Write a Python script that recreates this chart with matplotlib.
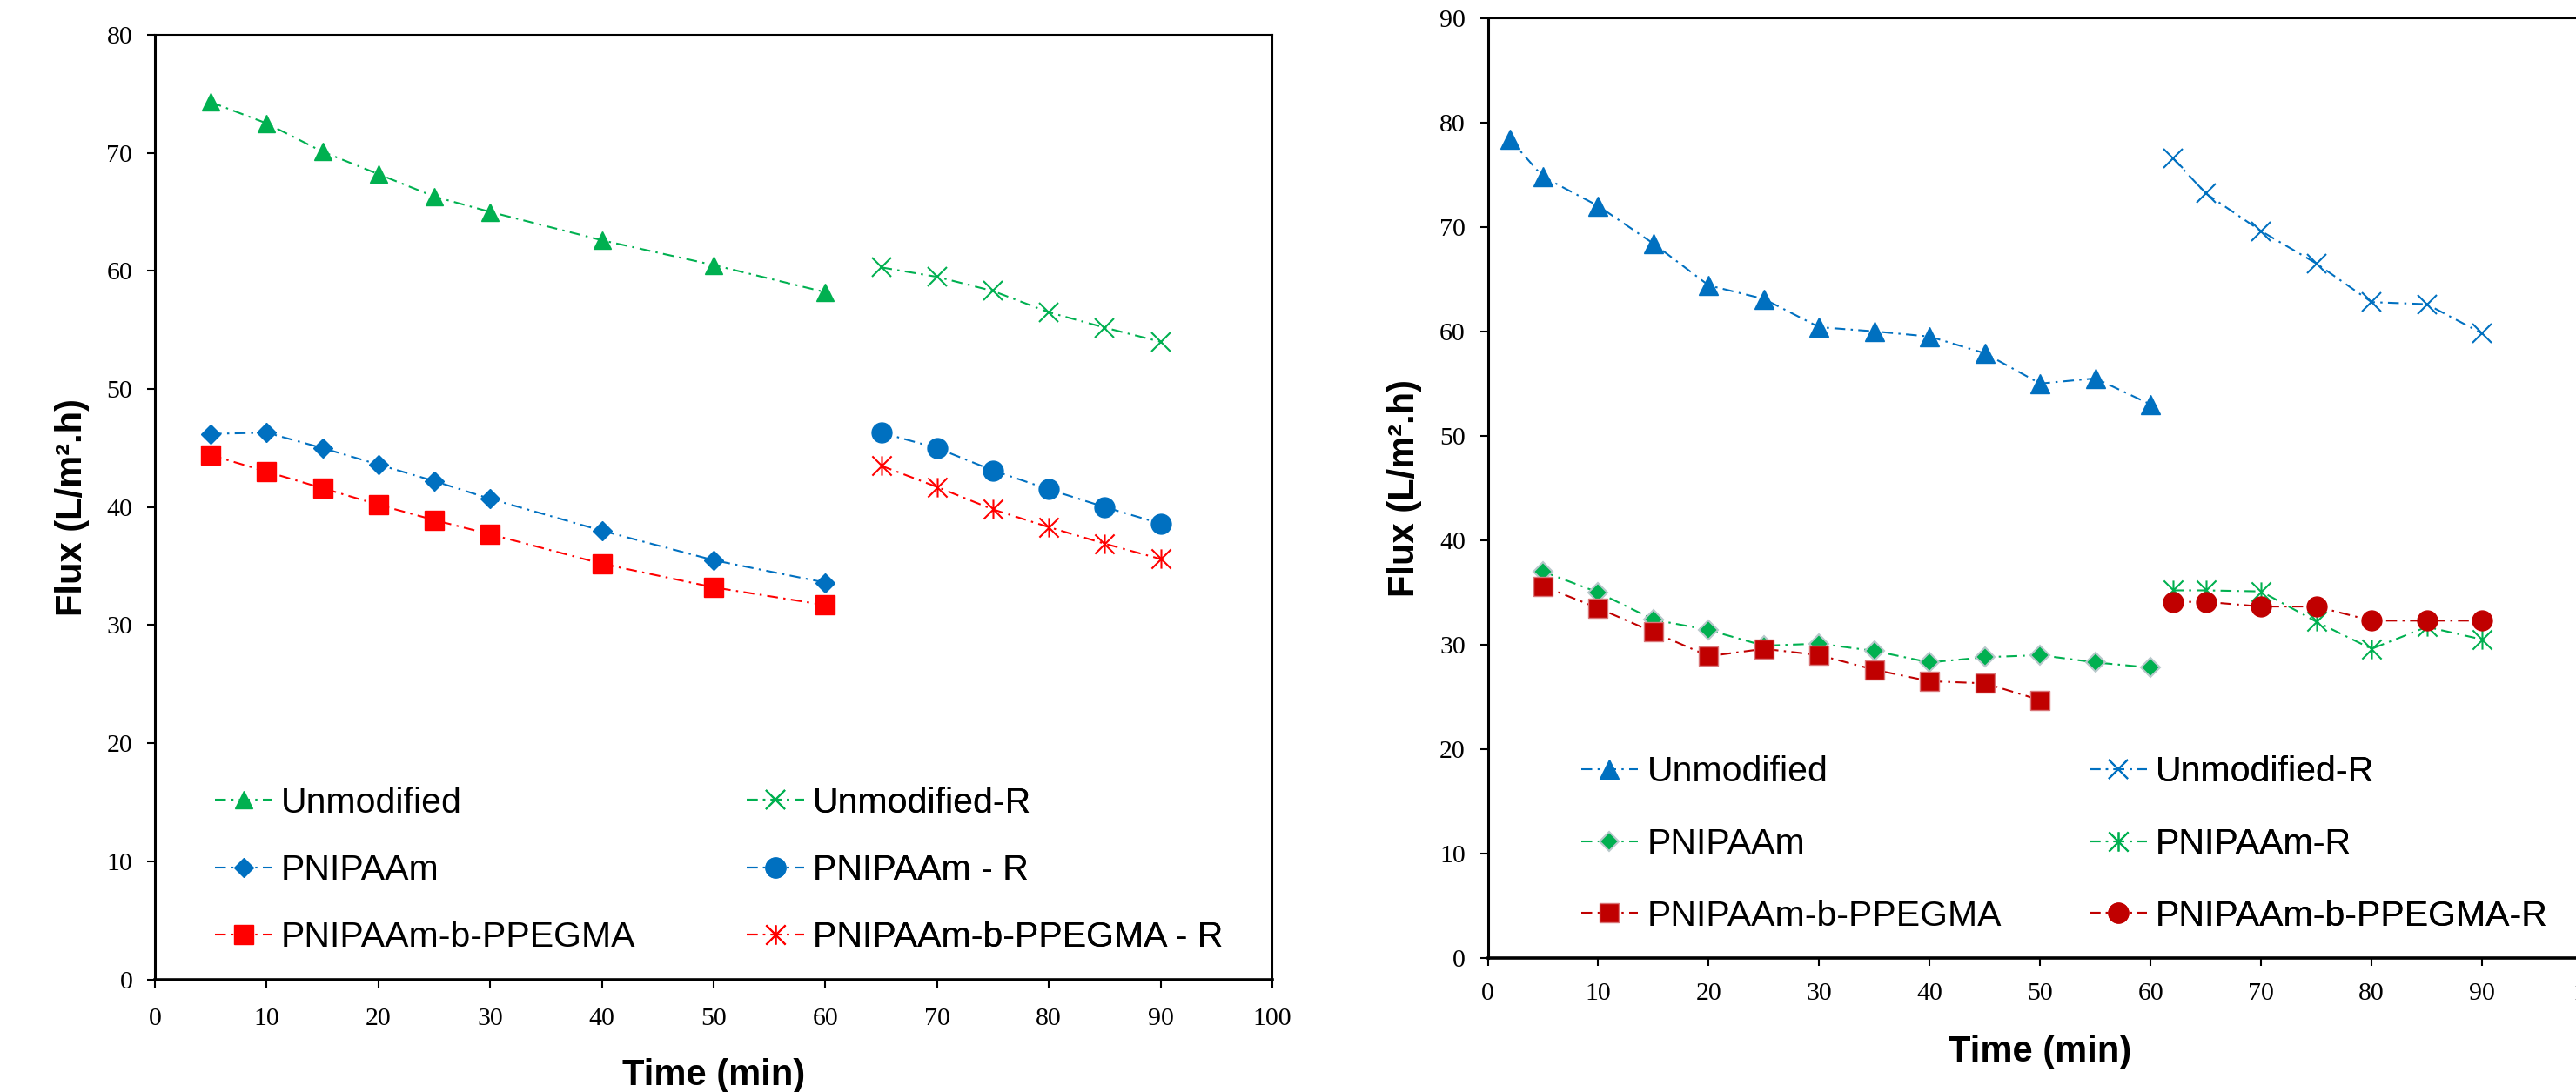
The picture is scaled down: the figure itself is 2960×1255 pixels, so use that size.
import numpy as np
import matplotlib.pyplot as plt
from matplotlib.path import Path

# Left panel: permeate flux, first run and repeat run (R)
time_a = [5, 10, 15, 20, 25, 30, 40, 50, 60]
time_a_r = [65, 70, 75, 80, 85, 90]
unmod_a = [74.3, 72.5, 70.1, 68.2, 66.3, 65.0, 62.6, 60.5, 58.2]
unmod_a_r = [60.3, 59.5, 58.3, 56.5, 55.2, 54.0]
pnipaam_a = [46.2, 46.3, 45.0, 43.6, 42.2, 40.7, 38.0, 35.5, 33.6]
pnipaam_a_r = [46.3, 45.0, 43.1, 41.5, 40.0, 38.6]
block_a = [44.4, 43.0, 41.6, 40.2, 38.9, 37.7, 35.2, 33.2, 31.7]
block_a_r = [43.5, 41.7, 39.8, 38.3, 36.9, 35.6]

# Right panel
time_unmod_b = [2, 5, 10, 15, 20, 25, 30, 35, 40, 45, 50, 55, 60]
time_pn_b = [5, 10, 15, 20, 25, 30, 35, 40, 45, 50, 55, 60]
time_block_b = [5, 10, 15, 20, 25, 30, 35, 40, 45, 50]
time_b_r = [62, 65, 70, 75, 80, 85, 90]
unmod_b = [78.4, 74.8, 72.0, 68.4, 64.4, 63.1, 60.4, 60.0, 59.5, 57.9, 55.0, 55.5, 53.0]
unmod_b_r = [76.6, 73.2, 69.6, 66.5, 62.8, 62.6, 59.8]
pnipaam_b = [37.0, 35.0, 32.4, 31.4, 29.9, 30.1, 29.4, 28.3, 28.8, 29.0, 28.3, 27.8]
pnipaam_b_r = [35.2, 35.2, 35.1, 32.2, 29.6, 31.7, 30.5]
block_b = [35.6, 33.5, 31.2, 28.9, 29.6, 29.0, 27.6, 26.5, 26.3, 24.7]
block_b_r = [34.1, 34.1, 33.65, 33.65, 32.3, 32.3, 32.3]

GREEN = '#00B050'
BLUE = '#0070C0'
RED = '#FF0000'
DARKRED = '#C00000'

# x with a vertical bar through it
star = Path([(-0.5, -0.5), (0.5, 0.5), (-0.5, 0.5), (0.5, -0.5), (0, -0.5), (0, 0.5)],
            [Path.MOVETO, Path.LINETO, Path.MOVETO, Path.LINETO, Path.MOVETO, Path.LINETO])

DASHDOT = (0, (6, 3, 1.2, 3))
SANS = 'Liberation Sans'
SERIF = 'Liberation Serif'

fig = plt.figure(figsize=(29.6, 12.55), dpi=100)
W, H = 2960, 1255


def px_axes(x0, x1, ytop, ybot):
    return fig.add_axes([x0 / W, 1 - ybot / H, (x1 - x0) / W, (ybot - ytop) / H])


def series(ax, x, y, color, marker, ms, label, **kw):
    style = dict(color=color, lw=1.5, linestyle=DASHDOT, marker=marker, ms=ms,
                 mfc=color, mec=color, label=label)
    style.update(kw)
    line, = ax.plot(x, y, **style)
    return line


def style_axes(ax, ymax, xpad, ylabpad, xlabpad):
    ax.set_xlim(0, 100)
    ax.set_ylim(0, ymax)
    ax.set_xticks(np.arange(0, 101, 10))
    ax.set_yticks(np.arange(0, ymax + 1, 10))
    ax.tick_params(axis='y', direction='out', length=6.5, width=1.5, pad=12,
                   labelsize=21.5)
    ax.tick_params(axis='x', direction='out', length=6.5, width=1.5, pad=xpad,
                   labelsize=21.5)
    for lab in ax.get_xticklabels() + ax.get_yticklabels():
        lab.set_fontfamily(SERIF)
    ax.spines['left'].set_linewidth(2.2)
    ax.spines['bottom'].set_linewidth(2.6)
    ax.spines['top'].set_linewidth(1.5)
    ax.spines['right'].set_linewidth(1.5)
    ax.set_xlabel('Time (min)', fontsize=30, fontweight='bold', family=SANS,
                  labelpad=xlabpad)
    ax.set_ylabel('Flux (L/m\u00b2.h)', fontsize=30, fontweight='bold', family=SANS,
                  labelpad=ylabpad)


def legend_column(ax, handles, x, y, spacing):
    leg = ax.legend(handles=handles, loc='center left',
                    bbox_to_anchor=(x / W, 1 - y / H), bbox_transform=fig.transFigure,
                    frameon=False, borderpad=0, borderaxespad=0,
                    handlelength=1.6, handletextpad=0.25, labelspacing=spacing,
                    prop={'family': SANS, 'size': 29.5})
    ax.add_artist(leg)


# ---- left panel ----
ax1 = px_axes(178, 1462, 40, 1125.5)
h = [series(ax1, time_a, unmod_a, GREEN, '^', 15, 'Unmodified'),
     series(ax1, time_a, pnipaam_a, BLUE, 'D', 11, 'PNIPAAm'),
     series(ax1, time_a, block_a, RED, 's', 15.5, 'PNIPAAm-b-PPEGMA')]
hr = [series(ax1, time_a_r, unmod_a_r, GREEN, 'x', 16, 'Unmodified-R', mew=1.5),
      series(ax1, time_a_r, pnipaam_a_r, BLUE, 'o', 16.5, 'PNIPAAm - R'),
      series(ax1, time_a_r, block_a_r, RED, star, 16, 'PNIPAAm-b-PPEGMA - R',
             mew=1.5, mfc='none')]
style_axes(ax1, 80, 17, 14, 23)
legend_column(ax1, h, 247, 1000, 0.96)
legend_column(ax1, hr, 858, 1000, 0.96)

# ---- right panel (x axis runs past the right edge) ----
ax2 = px_axes(1709.5, 2979, 20.7, 1101)
h = [series(ax2, time_unmod_b, unmod_b, BLUE, '^', 15.5, 'Unmodified'),
     series(ax2, time_pn_b, pnipaam_b, GREEN, 'D', 11, 'PNIPAAm',
            mec='#b9c9cc', mew=1.5),
     series(ax2, time_block_b, block_b, DARKRED, 's', 16, 'PNIPAAm-b-PPEGMA',
            mec='#d9777a', mew=1.0)]
hr = [series(ax2, time_b_r, unmod_b_r, BLUE, 'x', 16, 'Unmodified-R', mew=1.5),
      series(ax2, time_b_r, pnipaam_b_r, GREEN, star, 16, 'PNIPAAm-R',
             mew=1.5, mfc='none'),
      series(ax2, time_b_r, block_b_r, DARKRED, 'o', 16.5, 'PNIPAAm-b-PPEGMA-R')]
style_axes(ax2, 90, 14, 14, 24)
legend_column(ax2, h, 1816.6, 970, 1.09)
legend_column(ax2, hr, 2401, 970, 1.09)

fig.savefig('out.png', dpi=100)
